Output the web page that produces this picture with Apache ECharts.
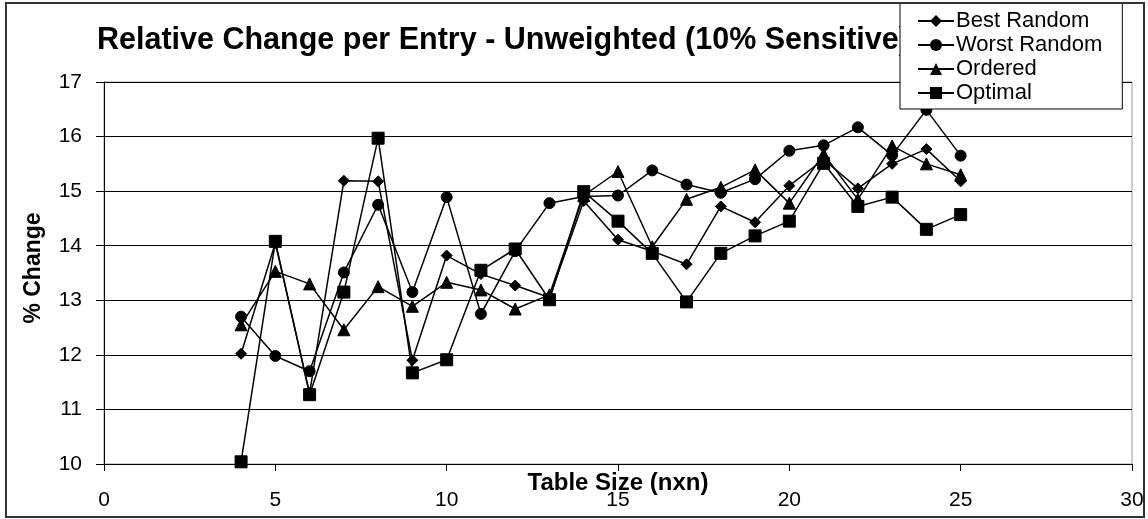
<!DOCTYPE html>
<html>
<head>
<meta charset="utf-8">
<script src="https://cdn.jsdelivr.net/npm/echarts@6/dist/echarts.min.js"></script>
<style>
html,body{margin:0;padding:0;background:#fff;}
#c{width:1148px;height:519px;}
</style>
</head>
<body>
<div id="c"></div>
<script>
var sizes = [4,5,6,7,8,9,10,11,12,13,14,15,16,17,18,19,20,21,22,23,24,25];
var bestRandom = [12.02,14.05,11.30,15.19,15.18,11.90,13.82,13.48,13.27,13.05,14.82,14.11,13.90,13.66,14.72,14.43,15.10,15.58,15.05,15.50,15.77,15.18];
var worstRandom = [12.70,11.98,11.70,13.51,14.75,13.15,14.89,12.75,13.90,14.78,14.90,14.92,15.38,15.12,14.97,15.22,15.74,15.84,16.17,15.66,16.49,15.65];
var ordered = [12.55,13.53,13.30,12.46,13.25,12.89,13.33,13.19,12.84,13.10,14.92,15.36,13.98,14.85,15.07,15.39,14.78,15.68,14.85,15.83,15.50,15.30];
var optimal = [10.04,14.08,11.27,13.15,15.97,11.67,11.91,13.55,13.94,13.01,14.99,14.45,13.86,12.97,13.86,14.18,14.45,15.51,14.72,14.89,14.30,14.57];
var seriesNames = ['Best Random','Worst Random','Ordered','Optimal'];
var titleText = 'Relative Change per Entry - Unweighted (10% Sensitive)';
var xTitle = 'Table Size (nxn)';
var yTitle = '% Change';

function pairs(vals){ return sizes.map(function(s,i){ return [s, vals[i]]; }); }
var FONT = '"Liberation Sans", Arial, sans-serif';
var symbols = ['diamond','circle','triangle','rect'];
var symSizes = [11,11,12,12];
var allVals = [bestRandom, worstRandom, ordered, optimal];

var chart = echarts.init(document.getElementById('c'), null, {renderer:'canvas'});
chart.setOption({
  animation:false,
  backgroundColor:'#fff',
  title:{
    text:titleText, left:92, top:20, z:1,
    textStyle:{fontFamily:FONT, fontSize:30.5, fontWeight:'bold', color:'#000'}
  },
  legend:{
    orient:'vertical', left:900, top:3, z:10,
    backgroundColor:'#fff', borderColor:'#000', borderWidth:1,
    padding:[6,20,4,17], itemGap:0, itemWidth:36, itemHeight:15,
    textStyle:{fontFamily:FONT, fontSize:22, color:'#000', lineHeight:24, padding:[0,0,0,-3]},
    data:seriesNames
  },
  grid:{left:104, right:16, top:82, bottom:55, outerBoundsMode:'none', containLabel:false, show:true, borderColor:'#999', borderWidth:1, backgroundColor:'#fff'},
  xAxis:{
    type:'value', min:0, max:30, interval:5,
    name:xTitle, nameLocation:'middle', nameGap:7, nameMoveOverlap:false,
    nameTextStyle:{fontFamily:FONT, fontSize:24, fontWeight:'bold', color:'#000'},
    axisLine:{show:true, lineStyle:{color:'#000', width:1}},
    axisTick:{show:true, inside:false, length:7, lineStyle:{color:'#000'}},
    axisLabel:{fontFamily:FONT, fontSize:21, color:'#000', margin:26},
    splitLine:{show:false}
  },
  yAxis:{
    type:'value', min:10, max:17, interval:1,
    name:yTitle, nameLocation:'middle', nameGap:59, nameRotate:90, nameMoveOverlap:false,
    nameTextStyle:{fontFamily:FONT, fontSize:23, fontWeight:'bold', color:'#000', padding:[0,0,0,10]},
    axisLine:{show:true, lineStyle:{color:'#000', width:1}},
    axisTick:{show:true, inside:false, length:8, lineStyle:{color:'#000'}},
    axisLabel:{fontFamily:FONT, fontSize:21, color:'#000', margin:22},
    splitLine:{show:true, lineStyle:{color:'#000', width:1}}
  },
  graphic:[{
    type:'rect', left:5, top:2, z:100, silent:true,
    shape:{x:0, y:0, width:1138, height:514},
    style:{fill:'rgba(0,0,0,0)', stroke:'#333', lineWidth:2}
  }],
  series: seriesNames.map(function(n,i){
    return {
      name:n, type:'line', data:pairs(allVals[i]),
      symbol:symbols[i], symbolSize:symSizes[i], showSymbol:true,
      lineStyle:{color:'#000', width:1.5},
      itemStyle:{color:'#000', borderColor:'#000'},
      emphasis:{disabled:true}
    };
  })
});
</script>
</body>
</html>
